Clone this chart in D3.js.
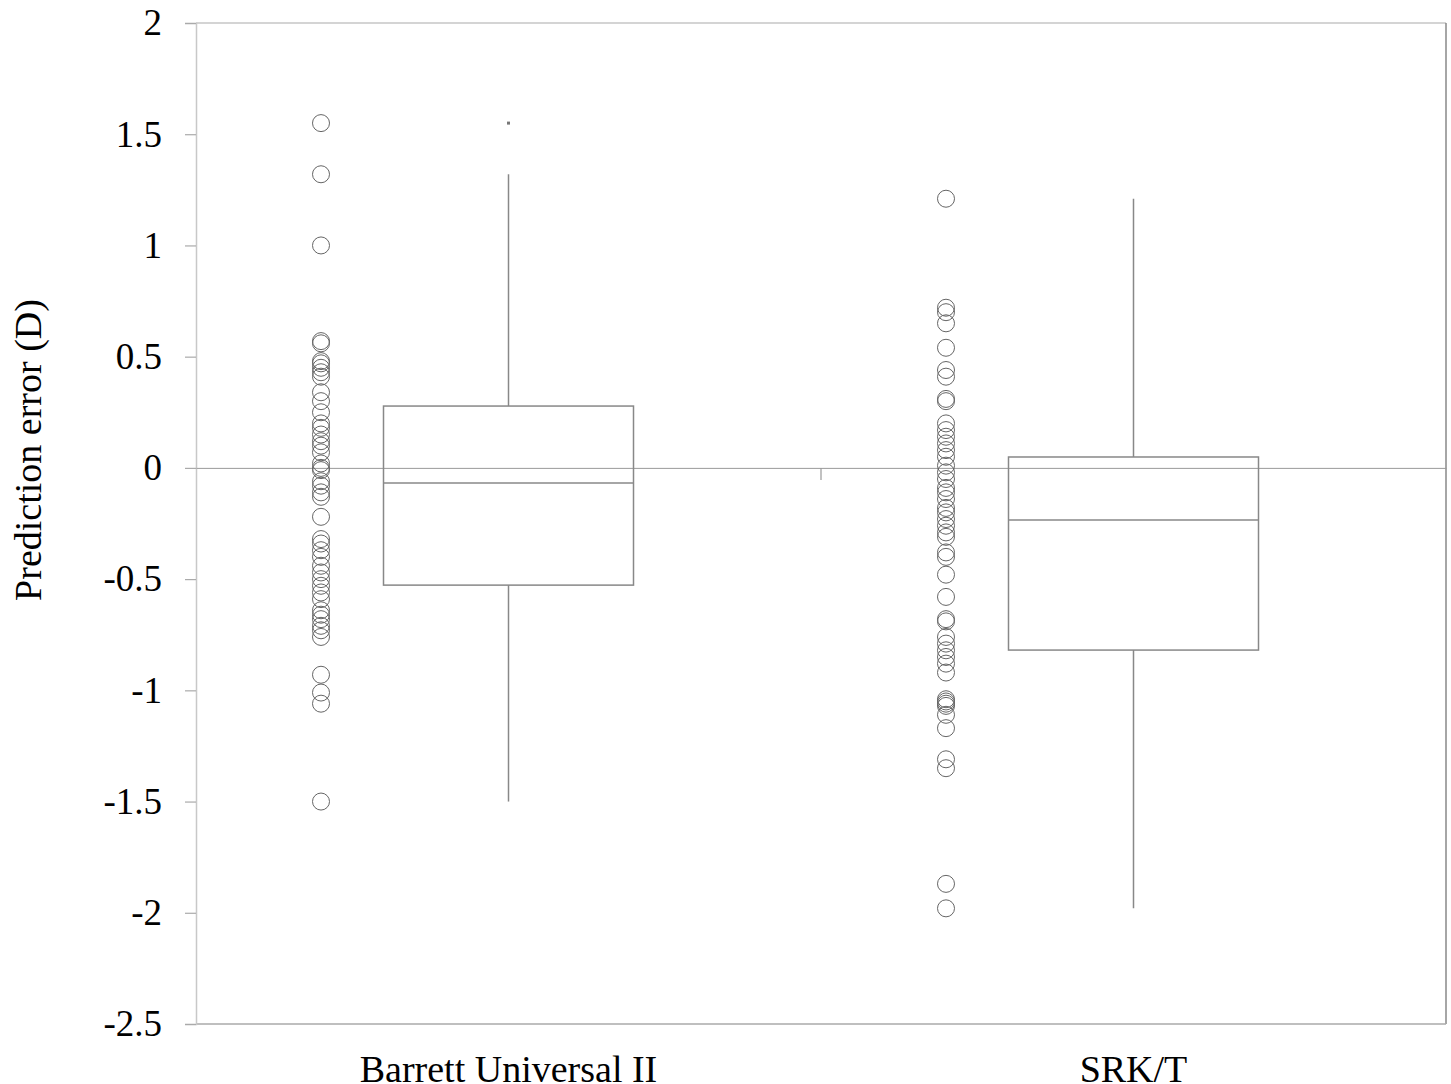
<!DOCTYPE html>
<html><head><meta charset="utf-8">
<script src="https://cdn.jsdelivr.net/npm/d3@7"></script>
<style>body{margin:0;background:#fff;}svg{display:block;}</style>
</head><body>
<svg id="c" width="1451" height="1084"></svg>
<script>
const categories = ["Barrett Universal II", "SRK/T"];
const barrettPoints = [1.55, 1.32, 1.0, 0.57, 0.56, 0.48, 0.47, 0.45, 0.43, 0.41, 0.34, 0.30, 0.25, 0.20, 0.18, 0.15, 0.12, 0.10, 0.07, 0.02, 0.0, -0.01, -0.06, -0.08, -0.11, -0.13, -0.22, -0.32, -0.34, -0.37, -0.40, -0.44, -0.47, -0.50, -0.53, -0.56, -0.59, -0.64, -0.66, -0.68, -0.71, -0.73, -0.76, -0.93, -1.01, -1.06, -1.50];
const srkPoints = [1.21, 0.72, 0.70, 0.65, 0.54, 0.44, 0.41, 0.31, 0.30, 0.20, 0.17, 0.14, 0.11, 0.08, 0.05, 0.01, -0.02, -0.05, -0.09, -0.11, -0.14, -0.18, -0.20, -0.23, -0.26, -0.29, -0.31, -0.38, -0.40, -0.48, -0.58, -0.68, -0.69, -0.76, -0.79, -0.82, -0.85, -0.88, -0.92, -1.04, -1.05, -1.06, -1.07, -1.11, -1.17, -1.31, -1.35, -1.87, -1.98];
// box stats: [whiskerLow, q1, median, q3, whiskerHigh, extreme]
const boxStats = [
  [-1.50, -0.527, -0.068, 0.278, 1.32, 1.55],
  [-1.98, -0.819, -0.234, 0.049, 1.21, null]
];
const yTicks = [2, 1.5, 1, 0.5, 0, -0.5, -1, -1.5, -2, -2.5];
const yLabel = "Prediction error (D)";

const svg = d3.select("#c");
const L = 196, R = 1446, T = 23, B = 1024;
const y = d3.scaleLinear().domain([-2.5, 2]).range([B, T]);
const x = d3.scaleBand().domain(categories).range([L, R]).padding(0);
const bw = x.bandwidth();
const font = "'Liberation Serif','Times New Roman',serif";

// frame
svg.append("line").attr("x1", L).attr("x2", R).attr("y1", T).attr("y2", T).attr("stroke", "#aaa").attr("stroke-width", 1.2);
svg.append("line").attr("x1", R).attr("x2", R).attr("y1", T).attr("y2", B).attr("stroke", "#888").attr("stroke-width", 1.5);
svg.append("line").attr("x1", L).attr("x2", R).attr("y1", B).attr("y2", B).attr("stroke", "#aaa").attr("stroke-width", 1.5);

// y axis
const yAxis = d3.axisLeft(y).tickValues(yTicks).tickSize(11).tickPadding(23).tickFormat(d => String(d));
const gy = svg.append("g").attr("transform", `translate(${L},0)`).call(yAxis);
gy.select(".domain").attr("stroke", "#c8c8c8").attr("stroke-width", 1.5);
gy.selectAll(".tick line").attr("stroke", "#aaa").attr("stroke-width", 1.2);
gy.selectAll(".tick text").attr("font-family", font).attr("font-size", 37).attr("fill", "#000");

// x axis along zero
const gx = svg.append("g").attr("transform", `translate(0,${y(0)})`)
  .call(d3.axisBottom(x).tickValues([]).tickSize(0));
gx.select(".domain").attr("stroke", "#999").attr("stroke-width", 1);
svg.append("line").attr("x1", x(categories[1])).attr("x2", x(categories[1]))
  .attr("y1", y(0)).attr("y2", y(0) + 12).attr("stroke", "#999").attr("stroke-width", 1.2);

// category labels
svg.selectAll(".cat").data(categories).join("text")
  .attr("x", d => x(d) + bw / 2).attr("y", 1082)
  .attr("text-anchor", "middle").attr("font-family", font).attr("font-size", 38).attr("fill", "#000")
  .text(d => d);

// y label
svg.append("text").attr("transform", `translate(41,450) rotate(-90)`)
  .attr("text-anchor", "middle").attr("font-family", font).attr("font-size", 38).attr("fill", "#000")
  .text(yLabel);

// boxes
const boxW = bw * 0.4;
boxStats.forEach((s, i) => {
  const cx = x(categories[i]) + bw / 2;
  const g = svg.append("g").attr("stroke", "#888").attr("stroke-width", 1.5).attr("fill", "none");
  g.append("line").attr("x1", cx).attr("x2", cx).attr("y1", y(s[4])).attr("y2", y(s[3]));
  g.append("line").attr("x1", cx).attr("x2", cx).attr("y1", y(s[1])).attr("y2", y(s[0]));
  g.append("rect").attr("x", cx - boxW / 2).attr("y", y(s[3])).attr("width", boxW).attr("height", y(s[1]) - y(s[3]));
  g.append("line").attr("x1", cx - boxW / 2).attr("x2", cx + boxW / 2).attr("y1", y(s[2])).attr("y2", y(s[2]));
  if (s[5] !== null) {
    svg.append("rect").attr("x", cx - 1.5).attr("y", y(s[5]) - 1.5).attr("width", 3).attr("height", 3).attr("fill", "#777");
  }
});

// points
[barrettPoints, srkPoints].forEach((pts, i) => {
  const px = x(categories[i]) + bw / 2 - bw * 0.3;
  svg.append("g").selectAll("circle").data(pts).join("circle")
    .attr("cx", px).attr("cy", d => y(d)).attr("r", 8.5)
    .attr("fill", "none").attr("stroke", "#666").attr("stroke-width", 1);
});
</script>
</body></html>
